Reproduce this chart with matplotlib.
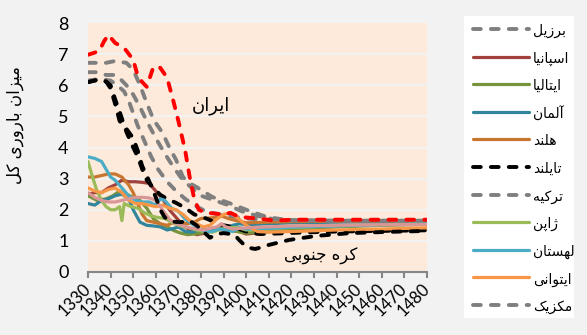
import matplotlib
matplotlib.use('Agg')
import matplotlib.pyplot as plt
from matplotlib.lines import Line2D
from matplotlib.patches import Rectangle

plt.rcParams['font.family'] = ['Lato', 'DejaVu Sans']

# Persian letters -> (isolated, final, initial, medial) presentation forms
FORMS = {
    'ا': ('\uFE8D', '\uFE8E', None, None),
    'آ': ('\uFE81', '\uFE82', None, None),
    'ب': ('\uFE8F', '\uFE90', '\uFE91', '\uFE92'),
    'پ': ('\uFB56', '\uFB57', '\uFB58', '\uFB59'),
    'ت': ('\uFE95', '\uFE96', '\uFE97', '\uFE98'),
    'ج': ('\uFE9D', '\uFE9E', '\uFE9F', '\uFEA0'),
    'د': ('\uFEA9', '\uFEAA', None, None),
    'ر': ('\uFEAD', '\uFEAE', None, None),
    'ز': ('\uFEAF', '\uFEB0', None, None),
    'ژ': ('\uFB8A', '\uFB8B', None, None),
    'س': ('\uFEB1', '\uFEB2', '\uFEB3', '\uFEB4'),
    'ک': ('\uFB8E', '\uFB8F', '\uFB90', '\uFB91'),
    'ل': ('\uFEDD', '\uFEDE', '\uFEDF', '\uFEE0'),
    'م': ('\uFEE1', '\uFEE2', '\uFEE3', '\uFEE4'),
    'ن': ('\uFEE5', '\uFEE6', '\uFEE7', '\uFEE8'),
    'ه': ('\uFEE9', '\uFEEA', '\uFEEB', '\uFEEC'),
    'و': ('\uFEED', '\uFEEE', None, None),
    'ی': ('\uFBFC', '\uFBFD', '\uFBFE', '\uFBFF'),
}


def fa(text):
    """Join Persian letters and flip to visual order for matplotlib."""
    out = []
    for i, ch in enumerate(text):
        if ch not in FORMS:
            out.append(ch)
            continue
        prev = text[i-1] if i > 0 else ''
        nxt = text[i+1] if i+1 < len(text) else ''
        join_prev = prev in FORMS and FORMS[prev][2] is not None
        join_next = nxt in FORMS and FORMS[ch][2] is not None
        isol, fin, ini, med = FORMS[ch]
        if join_prev and join_next:
            out.append(med)
        elif join_prev:
            out.append(fin)
        elif join_next:
            out.append(ini)
        else:
            out.append(isol)
    return ''.join(reversed(out))


# Total fertility rate by Persian calendar year
brazil_yr = [1330, 1335, 1340, 1343, 1346, 1348, 1350, 1352, 1355, 1358, 1361, 1365, 1369, 1373,
             1377, 1382, 1388, 1394, 1400, 1410, 1420, 1440, 1460, 1480]
brazil = [6.15, 6.2, 6.15, 6.0, 5.8, 5.5, 5.1, 4.7, 4.2, 3.7, 3.3, 2.9, 2.6, 2.35,
          2.15, 1.95, 1.85, 1.78, 1.72, 1.67, 1.65, 1.64, 1.64, 1.64]

spain_yr = [1330, 1333, 1336, 1339, 1342, 1345, 1348, 1351, 1354, 1357, 1360, 1363, 1366, 1369,
            1372, 1375, 1378, 1382, 1385, 1388, 1391, 1394, 1397, 1400, 1410, 1420, 1440, 1460, 1480]
spain = [2.5, 2.55, 2.55, 2.7, 2.8, 2.95, 2.9, 2.9, 2.88, 2.85, 2.6, 2.35, 2.0, 1.75,
         1.5, 1.35, 1.2, 1.25, 1.35, 1.45, 1.35, 1.33, 1.3, 1.22, 1.3, 1.38, 1.47, 1.52, 1.55]

italy_yr = [1330, 1334, 1338, 1341, 1344, 1347, 1350, 1353, 1356, 1359, 1362, 1365, 1368, 1371,
            1374, 1377, 1380, 1384, 1388, 1392, 1396, 1400, 1410, 1420, 1440, 1460, 1480]
italy = [2.45, 2.3, 2.35, 2.45, 2.6, 2.5, 2.4, 2.3, 2.05, 1.7, 1.55, 1.45, 1.33, 1.25,
         1.2, 1.22, 1.25, 1.35, 1.42, 1.38, 1.3, 1.25, 1.3, 1.38, 1.45, 1.5, 1.53]

germany_yr = [1330, 1333, 1336, 1339, 1342, 1345, 1348, 1350, 1353, 1356, 1359, 1362, 1365, 1368,
              1370, 1373, 1376, 1379, 1382, 1386, 1390, 1394, 1397, 1400, 1410, 1420, 1440, 1460, 1480]
germany = [2.2, 2.15, 2.3, 2.35, 2.45, 2.5, 2.35, 2.0, 1.6, 1.5, 1.48, 1.45, 1.35, 1.4,
           1.45, 1.3, 1.28, 1.35, 1.35, 1.35, 1.38, 1.5, 1.55, 1.52, 1.55, 1.58, 1.6, 1.62, 1.63]

netherlands_yr = [1330, 1333, 1336, 1339, 1342, 1345, 1348, 1350, 1352, 1354, 1356, 1359, 1362, 1365,
                  1368, 1371, 1374, 1377, 1380, 1383, 1386, 1389, 1392, 1395, 1400, 1410, 1420, 1440,
                  1460, 1480]
netherlands = [3.05, 3.05, 3.1, 3.15, 3.15, 3.05, 2.8, 2.55, 2.2, 1.85, 1.65, 1.6, 1.55, 1.5,
               1.6, 1.6, 1.55, 1.6, 1.72, 1.73, 1.75, 1.8, 1.72, 1.66, 1.58, 1.6, 1.62, 1.63,
               1.64, 1.65]

thailand_yr = [1330, 1334, 1338, 1340, 1342, 1344, 1347, 1350, 1352, 1354, 1356, 1359, 1362, 1365,
               1369, 1373, 1377, 1380, 1383, 1386, 1390, 1394, 1398, 1402, 1406, 1415, 1425, 1440,
               1460, 1480]
thailand = [6.1, 6.17, 6.12, 6.0, 5.55, 5.15, 4.5, 4.0, 3.7, 3.3, 2.95, 2.7, 2.48, 2.35,
            2.22, 2.06, 1.85, 1.78, 1.7, 1.6, 1.5, 1.45, 1.35, 1.25, 1.22, 1.24, 1.27, 1.3,
            1.32, 1.34]

turkey_yr = [1330, 1334, 1338, 1342, 1345, 1347, 1350, 1353, 1356, 1360, 1364, 1368, 1372, 1376,
             1380, 1386, 1392, 1398, 1405, 1412, 1420, 1440, 1460, 1480]
turkey = [6.42, 6.42, 6.33, 6.33, 6.15, 6.0, 5.7, 5.3, 4.85, 4.3, 3.8, 3.35, 2.95, 2.7,
          2.45, 2.3, 2.15, 1.95, 1.8, 1.7, 1.66, 1.64, 1.64, 1.64]

japan_yr = [1330, 1332, 1334, 1336, 1338, 1340, 1342, 1344, 1345, 1346, 1349, 1352, 1355, 1358,
            1361, 1364, 1367, 1370, 1374, 1378, 1382, 1385, 1388, 1392, 1396, 1400, 1410, 1420,
            1440, 1460, 1480]
japan = [3.55, 3.05, 2.6, 2.3, 2.1, 2.0, 2.0, 2.1, 1.65, 2.2, 2.1, 2.05, 1.9, 1.8,
         1.75, 1.72, 1.6, 1.5, 1.43, 1.35, 1.3, 1.28, 1.35, 1.42, 1.43, 1.35, 1.38, 1.43,
         1.48, 1.52, 1.55]

poland_yr = [1330, 1333, 1336, 1338, 1340, 1342, 1345, 1348, 1351, 1354, 1357, 1360, 1362, 1364,
             1367, 1370, 1373, 1376, 1379, 1382, 1385, 1388, 1391, 1394, 1397, 1400, 1410, 1420,
             1440, 1460, 1480]
poland = [3.7, 3.65, 3.55, 3.3, 3.05, 2.95, 2.7, 2.45, 2.3, 2.25, 2.25, 2.15, 2.35, 2.3,
          2.05, 1.95, 1.7, 1.55, 1.4, 1.3, 1.3, 1.38, 1.35, 1.3, 1.42, 1.38, 1.4, 1.44,
          1.48, 1.52, 1.55]

lithuania_yr = [1330, 1333, 1336, 1339, 1342, 1345, 1348, 1351, 1354, 1357, 1360, 1363, 1366, 1369,
                1372, 1375, 1378, 1381, 1384, 1387, 1390, 1393, 1396, 1400, 1405, 1410, 1420, 1440,
                1460, 1480]
lithuania = [2.7, 2.6, 2.55, 2.65, 2.7, 2.55, 2.3, 2.2, 2.2, 2.15, 2.1, 2.15, 2.05, 2.0,
             1.85, 1.65, 1.55, 1.45, 1.5, 1.7, 1.85, 1.9, 1.75, 1.5, 1.3, 1.28, 1.3, 1.35,
             1.38, 1.42]

mexico_yr = [1330, 1335, 1338, 1342, 1347, 1350, 1353, 1356, 1359, 1363, 1366, 1369, 1372, 1375,
             1378, 1385, 1393, 1400, 1409, 1418, 1440, 1460, 1480]
mexico = [6.72, 6.72, 6.72, 6.78, 6.72, 6.5, 6.0, 5.43, 4.89, 4.47, 4.0, 3.6, 3.05, 2.85,
          2.73, 2.41, 2.2, 2.0, 1.77, 1.67, 1.65, 1.65, 1.65]

pink_yr = [1330, 1333, 1336, 1339, 1342, 1345, 1348, 1351, 1354, 1357, 1360, 1363, 1366, 1369,
           1372, 1375, 1378, 1381, 1384, 1387, 1389, 1391, 1394, 1397, 1400, 1410, 1420, 1440,
           1460, 1480]
pink = [2.55, 2.4, 2.3, 2.25, 2.25, 2.3, 2.35, 2.4, 2.4, 2.38, 2.3, 2.0, 1.7, 1.55,
        1.48, 1.42, 1.38, 1.35, 1.4, 1.45, 1.55, 1.45, 1.38, 1.4, 1.42, 1.45, 1.48, 1.5,
        1.52, 1.53]

korea_yr = [1330, 1334, 1338, 1340, 1342, 1344, 1347, 1350, 1352, 1354, 1356, 1358, 1360, 1362,
            1364, 1367, 1371, 1375, 1378, 1381, 1384, 1387, 1390, 1393, 1395, 1397, 1399, 1401,
            1404, 1407, 1410, 1419, 1431, 1446, 1463, 1480]
korea = [6.1, 6.17, 6.12, 5.9, 5.4, 4.85, 4.6, 4.3, 3.9, 3.4, 3.1, 2.75, 2.4, 2.0,
         1.75, 1.62, 1.6, 1.65, 1.5, 1.3, 1.1, 1.22, 1.25, 1.22, 1.18, 1.02, 0.88, 0.78,
         0.74, 0.8, 0.87, 1.03, 1.16, 1.25, 1.29, 1.32]

iran_yr = [1330, 1333, 1335, 1337, 1339, 1342, 1346, 1350, 1352, 1354, 1356, 1359, 1362, 1365,
           1368, 1370, 1373, 1375, 1377, 1379, 1382, 1386, 1390, 1393, 1396, 1400, 1405, 1413,
           1420, 1440, 1460, 1480]
iran = [6.98, 7.05, 7.1, 7.4, 7.62, 7.36, 7.2, 6.82, 6.3, 6.1, 5.95, 6.6, 6.56, 6.24,
        5.43, 4.85, 3.9, 3.05, 2.35, 2.0, 1.9, 1.88, 1.85, 1.9, 1.8, 1.75, 1.72, 1.65,
        1.68, 1.68, 1.68, 1.68]

x_ticks = list(range(1330, 1481, 10))
y_ticks = list(range(0, 9))

# (years, values, colour, dashed, legend label)
series = [
    (brazil_yr, brazil, '#7F7F7F', True, 'برزیل'),
    (spain_yr, spain, '#A0413D', False, 'اسپانیا'),
    (italy_yr, italy, '#77933C', False, 'ایتالیا'),
    (germany_yr, germany, '#31859C', False, 'آلمان'),
    (netherlands_yr, netherlands, '#C8762F', False, 'هلند'),
    (thailand_yr, thailand, '#000000', True, 'تایلند'),
    (turkey_yr, turkey, '#7F7F7F', True, 'ترکیه'),
    (japan_yr, japan, '#9BBB59', False, 'ژاپن'),
    (poland_yr, poland, '#4BACC6', False, 'لهستان'),
    (lithuania_yr, lithuania, '#F79646', False, 'ایتوانی'),
    (mexico_yr, mexico, '#7F7F7F', True, 'مکزیک'),
    (pink_yr, pink, '#D99694', False, None),
    (korea_yr, korea, '#000000', True, None),
    (iran_yr, iran, '#FF0000', True, None),
]

W, H = 587, 335
fig = plt.figure(figsize=(W/100, H/100), dpi=100, facecolor='#F2F2F2')
ax = fig.add_axes([88/W, 63/H, 339/W, 249/H])
ax.set_facecolor('#FDEADA')

dash_kw = dict(lw=2.8, dashes=(2.0, 2.6), dash_capstyle='round')
solid_kw = dict(lw=2.3, solid_capstyle='round', solid_joinstyle='round')

for yr, vals, clr, dashed, lbl in series:
    ax.plot(yr, vals, color=clr, **(dash_kw if dashed else solid_kw))

# Axes
ax.set_xlim(1330, 1480)
ax.set_ylim(0, 8)
ax.set_xticks(x_ticks)
ax.set_yticks(y_ticks)
ax.yaxis.grid(True, color='#F2F2F2', lw=1.5)
ax.get_ygridlines()[-1].set_visible(False)
ax.set_axisbelow(True)
for side in ['top', 'right', 'left']:
    ax.spines[side].set_visible(False)
ax.spines['bottom'].set_color('#868686')
ax.spines['bottom'].set_linewidth(1.5)
ax.tick_params(axis='y', length=0, pad=14, labelsize=13)
ax.tick_params(axis='x', length=4, width=1.5, color='#868686', pad=6, labelsize=12)
for tl in ax.get_xticklabels():
    tl.set_rotation(45)
    tl.set_rotation_mode('anchor')
    tl.set_ha('right')
    tl.set_va('center')

ax.set_ylabel(fa('میزان باروری کل'), fontsize=12, family='DejaVu Sans')
ax.yaxis.set_label_coords(-0.19, 0.59)

ax.text(1384.5, 5.35, fa('ایران'), fontsize=13, family='DejaVu Sans', ha='center', va='center')
ax.text(1433, 0.5, fa('کره جنوبی'), fontsize=12, family='DejaVu Sans', ha='center', va='center')

# Legend box, laid out in pixels from the top-left corner
fig.patches.append(Rectangle((464/W, 1-318/H), 110/W, 302/H, transform=fig.transFigure,
                             facecolor='white', edgecolor='none', zorder=1))
row = 0
for yr, vals, clr, dashed, lbl in series:
    if lbl is None:
        continue
    y = 1 - (29 + 27.6*row)/H
    fig.add_artist(Line2D([473/W, 529/W], [y, y], transform=fig.transFigure, color=clr,
                          zorder=2, **(dash_kw if dashed else solid_kw)))
    fig.text(533/W, y - 2/H, fa(lbl), fontsize=10, family='DejaVu Sans',
             ha='left', va='center', zorder=3)
    row += 1

fig.savefig('out.png', dpi=100, facecolor=fig.get_facecolor())
